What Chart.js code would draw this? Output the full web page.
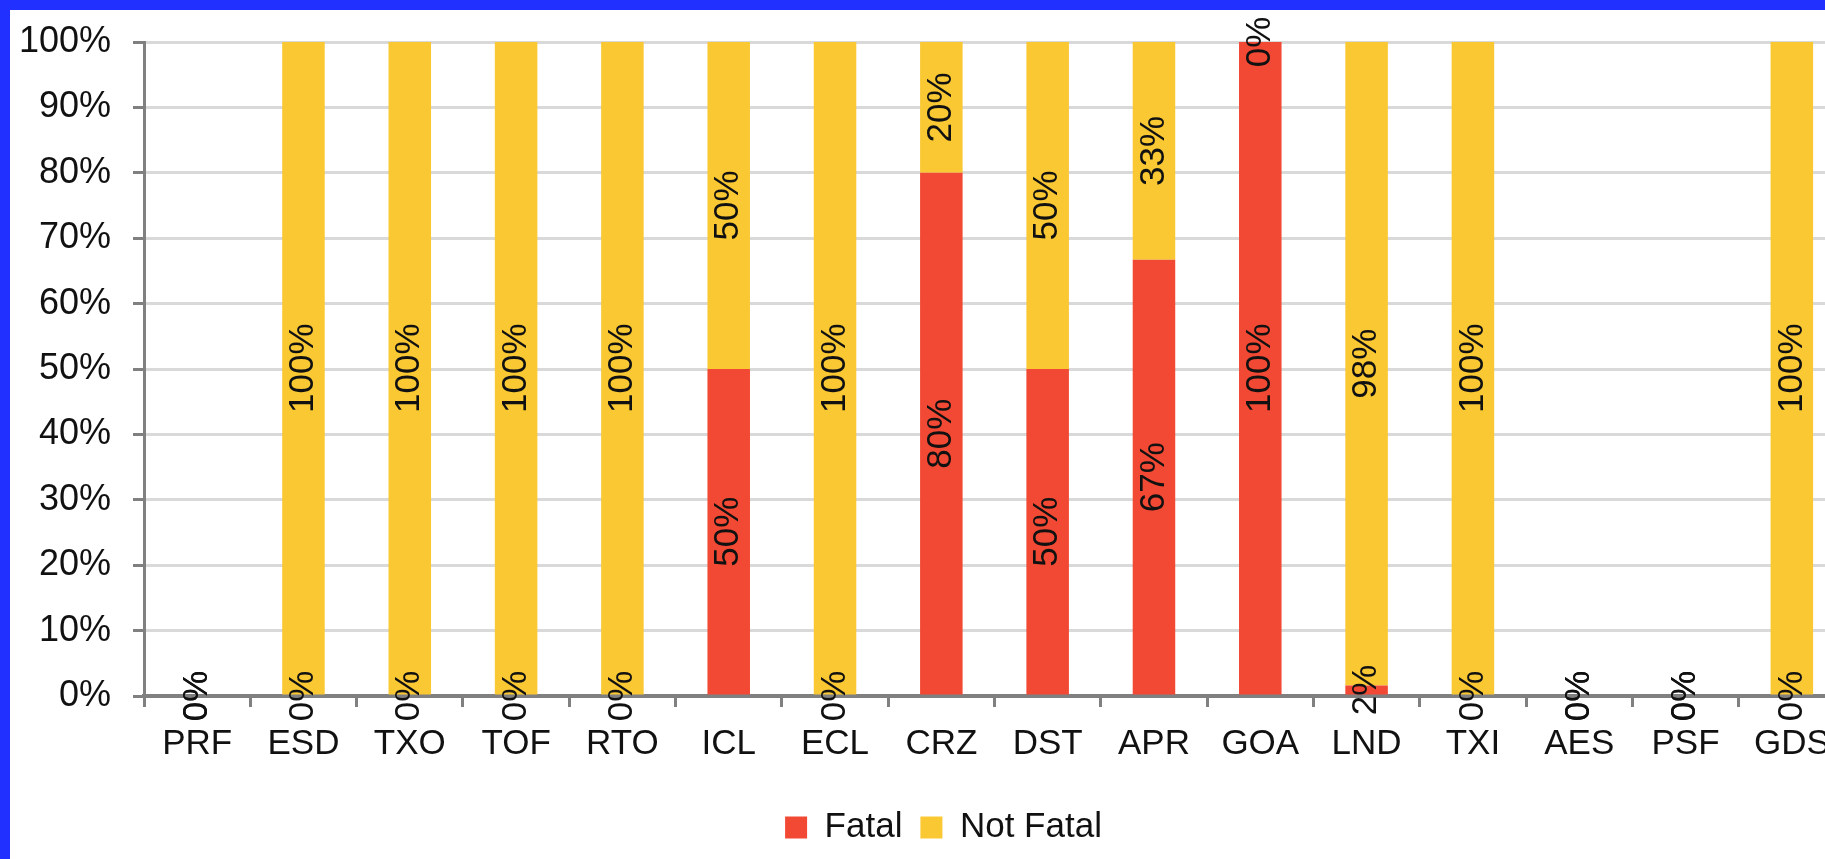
<!DOCTYPE html>
<html>
<head>
<meta charset="utf-8">
<script src="https://cdn.jsdelivr.net/npm/chart.js@4.4.1/dist/chart.umd.min.js"></script>
<style>
    html, body { margin: 0; padding: 0; overflow: hidden; background: #2130ff; }
    #wrap { position: absolute; left: 10px; top: 10px; width: 1867px; height: 849px; background: #fff; }
</style>
</head>
<body>
<div id="wrap"><canvas id="chart"></canvas></div>
<script>
// Data (percent of occurrences)
const categories = ['PRF', 'ESD', 'TXO', 'TOF', 'RTO', 'ICL', 'ECL', 'CRZ', 'DST', 'APR', 'GOA', 'LND', 'TXI', 'AES', 'PSF', 'GDS'];
const fatal    = [0, 0, 0, 0, 0, 50, 0, 80, 50, 66.7, 100, 1.6, 0, 0, 0, 0];
const notFatal = [0, 100, 100, 100, 100, 50, 100, 20, 50, 33.3, 0, 98.4, 100, 0, 0, 100];

const FONT = '"Liberation Sans", Arial, sans-serif';

// rotated value labels in the middle of each segment
const barLabels = {
    id: 'barLabels',
    afterDatasetsDraw(chart) {
        const ctx = chart.ctx;
        ctx.save();
        ctx.font = '35px ' + FONT;
        ctx.fillStyle = '#111';
        ctx.textAlign = 'center';
        ctx.textBaseline = 'middle';
        chart.data.datasets.forEach((ds, i) => {
            chart.getDatasetMeta(i).data.forEach((bar, j) => {
                const y = (bar.y + bar.base) / 2;
                ctx.save();
                ctx.translate(bar.x, y);
                ctx.rotate(-Math.PI / 2);
                ctx.fillText(Math.round(ds.data[j]) + '%', 0, 0);
                ctx.restore();
            });
        });
        ctx.restore();
    }
};

const ctx = document.getElementById('chart').getContext('2d');
new Chart(ctx, {
    type: 'bar',
    data: {
        labels: categories,
        datasets: [
            { label: 'Fatal', data: fatal, backgroundColor: '#f24934', borderWidth: 0 },
            { label: 'Not Fatal', data: notFatal, backgroundColor: '#f9c833', borderWidth: 0 }
        ]
    },
    plugins: [barLabels],
    options: {
        responsive: true,
        maintainAspectRatio: false,
        animation: false,
        categoryPercentage: 1,
        barPercentage: 0.4,
        layout: { padding: { left: 0, right: 0, top: 32, bottom: 4 } },
        plugins: {
            legend: {
                position: 'bottom',
                labels: {
                    color: '#111',
                    font: { size: 35, family: FONT },
                    boxWidth: 22,
                    boxHeight: 22,
                    padding: 18
                }
            },
            tooltip: { enabled: false }
        },
        scales: {
            x: {
                stacked: true,
                grid: { drawOnChartArea: false, color: '#808080', lineWidth: 3, tickLength: 11 },
                border: { color: '#808080', width: 4 },
                ticks: { color: '#111', font: { size: 35, family: FONT }, padding: 16, maxRotation: 0 },
                afterFit: scale => { scale.height += 11; }
            },
            y: {
                stacked: true,
                min: 0,
                max: 100,
                grid: { color: '#d9d9d9', lineWidth: 3, tickColor: '#808080', tickLength: 11 },
                border: { color: '#808080', width: 3 },
                ticks: {
                    stepSize: 10,
                    color: '#111',
                    font: { size: 36, family: FONT },
                    padding: 22,
                    callback: v => v + '%'
                },
                afterFit: scale => {
                    scale.width = 134;
                    scale.paddingTop = 0;
                    scale.paddingBottom = 0;
                }
            },
            // empty strip on the right, keeps the legend centred on the page
            yRight: {
                position: 'right',
                grid: { display: false },
                border: { display: false },
                ticks: { display: false },
                afterFit: scale => {
                    scale.width = 32;
                    scale.paddingTop = 0;
                    scale.paddingBottom = 0;
                }
            }
        }
    }
});
</script>
</body>
</html>
